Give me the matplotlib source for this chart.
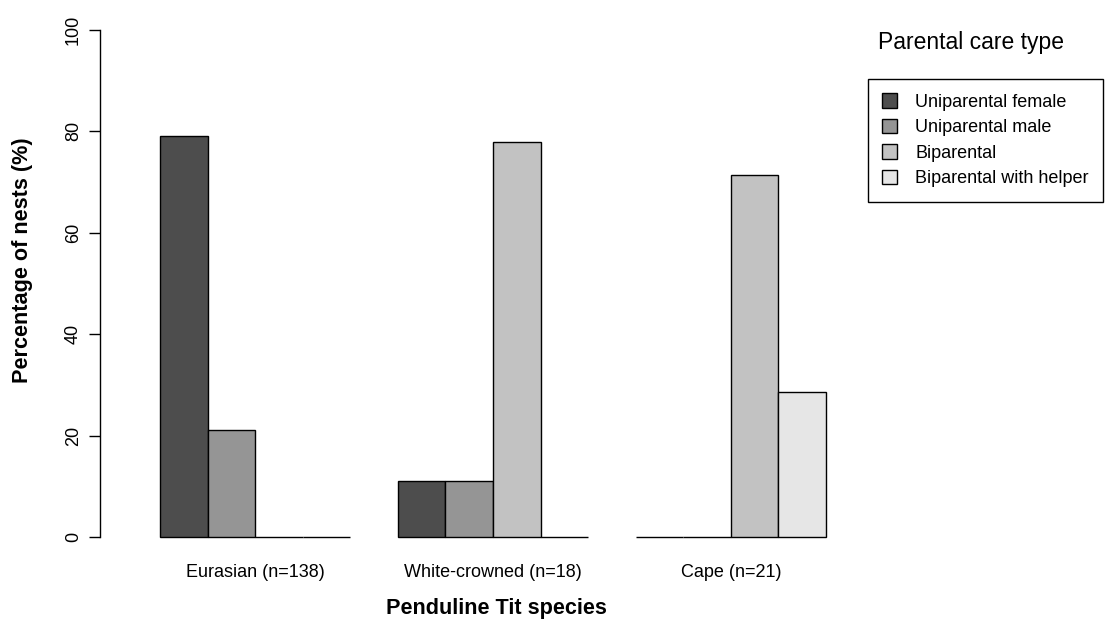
import matplotlib as mpl
mpl.use('Agg')
import matplotlib.pyplot as plt
import numpy as np

plt.rcParams['font.family'] = ['Liberation Sans', 'DejaVu Sans']

species = ["Eurasian (n=138)", "White-crowned (n=18)", "Cape (n=21)"]
care_types = ["Uniparental female", "Uniparental male", "Biparental", "Biparental with helper"]
# percentage of nests per care type, one list per species
eurasian = [79.0, 21.0, 0.0, 0.0]
white_crowned = [11.1, 11.1, 77.8, 0.0]
cape = [0.0, 0.0, 71.4, 28.6]
colors = ["#4D4D4D", "#959595", "#C2C2C2", "#E6E6E6"]

values = np.array([eurasian, white_crowned, cape])

fig = plt.figure(figsize=(11.12, 6.30), dpi=100)
ax = fig.add_axes([100/1112, 1 - 557.3/630, (853 - 100)/1112, (557.3 - 9.2)/630])

handles = []
for k, ct in enumerate(care_types):
    xs = [1 + g*5 + k + 0.5 for g in range(len(species))]
    b = ax.bar(xs, values[:, k], width=1.0, color=colors[k], edgecolor='black', linewidth=1.0, label=ct)
    handles.append(b)

ax.set_xlim(1 - 60/47.6, 15 + 27/47.6)
ax.set_ylim(-4, 104)
ax.set_yticks([0, 20, 40, 60, 80, 100])
ax.set_yticklabels(["0", "20", "40", "60", "80", "100"], rotation=90, va='center', fontsize=13)
ax.tick_params(axis='y', length=8, width=1, pad=5)
ax.set_xticks([3 + g*5 for g in range(len(species))])
ax.set_xticklabels(species, fontsize=13)
ax.tick_params(axis='x', length=0, pad=5)
for s in ['top', 'right', 'bottom']:
    ax.spines[s].set_visible(False)
ax.spines['left'].set_bounds(0, 100)
ax.spines['left'].set_linewidth(1)

ax.set_ylabel("Percentage of nests (%)", fontsize=15.6, fontweight='bold')
ax.yaxis.set_label_coords(-0.089, 0.542)
ax.set_xlabel("Penduline Tit species", fontsize=15.6, fontweight='bold')
ax.xaxis.set_label_coords(0.526, -0.075)

fig.text(878/1112, 1 - 43/630, "Parental care type", fontsize=16.5, va='center', ha='left')
leg = fig.legend(handles=handles, labels=care_types, loc='upper left',
                 bbox_to_anchor=(868/1112, 1 - 79/630), fontsize=13,
                 frameon=True, fancybox=False, edgecolor='black', framealpha=1,
                 handlelength=0.83, handleheight=0.83, handletextpad=1.0,
                 labelspacing=0.45, borderpad=0.8, borderaxespad=0)
leg.get_frame().set_linewidth(1)

fig.savefig('out.png', dpi=100)
